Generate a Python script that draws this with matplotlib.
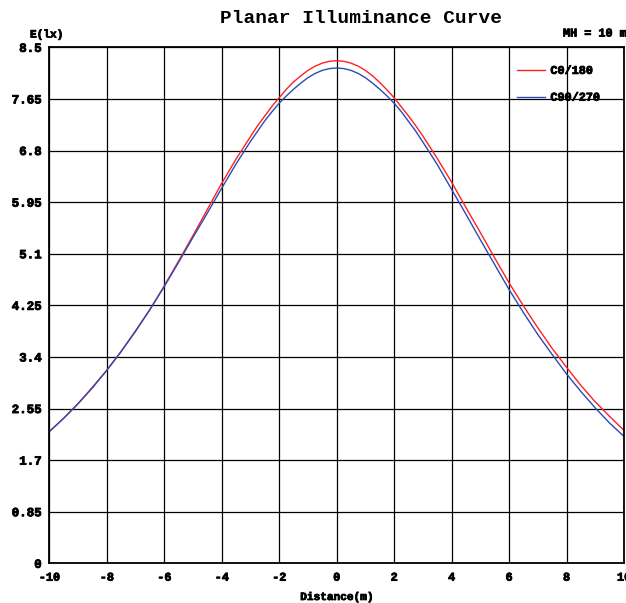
import matplotlib.pyplot as plt
import matplotlib.patheffects as pe
from matplotlib.ticker import MultipleLocator

plt.rcParams['axes.unicode_minus'] = False

# distance (m) and planar illuminance (lx)
distance = [-10, -9.5, -9, -8.5, -8, -7.5, -7, -6.5, -6, -5.5, -5, -4.5, -4, -3.5, -3,
            -2.75, -2.5, -2.25, -2, -1.75, -1.5, -1.25, -1, -0.75, -0.5, -0.25,
            0, 0.25, 0.5, 0.75, 1, 1.25, 1.5, 1.75, 2, 2.25, 2.5, 2.75,
            3, 3.5, 4, 4.5, 5, 5.5, 6, 6.5, 7, 7.5, 8, 8.5, 9, 9.5, 10]
c0_180 = [2.17, 2.39, 2.63, 2.89, 3.18, 3.49, 3.82, 4.18, 4.57, 4.98, 5.40, 5.83, 6.26, 6.66, 7.03,
          7.21, 7.37, 7.53, 7.67, 7.81, 7.93, 8.03, 8.12, 8.19, 8.24, 8.27,
          8.28, 8.27, 8.24, 8.19, 8.12, 8.03, 7.92, 7.80, 7.67, 7.52, 7.37, 7.21,
          7.04, 6.67, 6.28, 5.86, 5.45, 5.03, 4.62, 4.24, 3.88, 3.54, 3.23, 2.93, 2.66, 2.42, 2.19]
c90_270 = [2.17, 2.39, 2.63, 2.90, 3.18, 3.49, 3.83, 4.18, 4.56, 4.96, 5.37, 5.77, 6.18, 6.58, 6.95,
           7.12, 7.29, 7.44, 7.58, 7.70, 7.81, 7.91, 8.00, 8.07, 8.12, 8.15,
           8.16, 8.15, 8.12, 8.07, 8.00, 7.91, 7.81, 7.70, 7.58, 7.44, 7.28, 7.12,
           6.94, 6.57, 6.16, 5.75, 5.33, 4.92, 4.51, 4.13, 3.77, 3.44, 3.12, 2.83, 2.56, 2.31, 2.09]
y_ticks = [0, 0.85, 1.7, 2.55, 3.4, 4.25, 5.1, 5.95, 6.8, 7.65, 8.5]
y_labels = ["0", "0.85", "1.7", "2.55", "3.4", "4.25", "5.1", "5.95", "6.8", "7.65", "8.5"]

mono = "Liberation Mono"
heavy = [pe.withStroke(linewidth=0.6, foreground="black")]

fig = plt.figure(figsize=(6.26, 6.03), dpi=100)
ax = fig.add_axes([0.0788, 0.0658, 0.918, 0.8557])

ax.plot(distance, c0_180, color="#ff2020", lw=1.0, label="C0/180")
ax.plot(distance, c90_270, color="#2a4bb5", lw=1.0, label="C90/270")

ax.set_xlim(-10, 10)
ax.set_ylim(0, 8.5)
ax.xaxis.set_major_locator(MultipleLocator(2))
ax.set_yticks(y_ticks)
ax.set_yticklabels(y_labels)
ax.grid(True, color="black", lw=0.9)
ax.set_axisbelow(True)
ax.tick_params(length=0)
ax.tick_params(axis="y", pad=5.5)
ax.tick_params(axis="x", pad=6)
for lab in ax.get_yticklabels():
    lab.set_fontfamily(mono)
    lab.set_fontweight("bold")
    lab.set_fontsize(9)
    lab.set_path_effects(heavy)
for lab in ax.get_xticklabels():
    lab.set_fontfamily(mono)
    lab.set_fontweight("bold")
    lab.set_fontsize(8.5)
    lab.set_path_effects(heavy)
for s in ax.spines.values():
    s.set_linewidth(1.3)
    s.set_color("black")

ax.set_xlabel("Distance(m)", fontfamily=mono, fontweight="bold", fontsize=8, labelpad=6,
              path_effects=heavy)

fig.text(0.576, 0.970, "Planar Illuminance Curve", ha="center", va="center",
         fontfamily=mono, fontweight="bold", fontsize=14)
fig.text(30 / 626, 1 - 34.5 / 603, "E(lx)", ha="left", va="center",
         fontfamily=mono, fontweight="bold", fontsize=8, path_effects=heavy)
fig.text(626 / 626, 1 - 33.5 / 603, "MH = 10 m", ha="right", va="center",
         fontfamily=mono, fontweight="bold", fontsize=8.5, path_effects=heavy)

leg = ax.legend(loc="upper left", bbox_to_anchor=(0.813, 0.966), frameon=False,
                borderpad=0, borderaxespad=0, handlelength=2.45, handletextpad=0.42,
                labelspacing=1.25, prop={"family": mono, "weight": "bold", "size": 8.5})
for t in leg.get_texts():
    t.set_path_effects(heavy)

plt.savefig("out.png", dpi=100)
